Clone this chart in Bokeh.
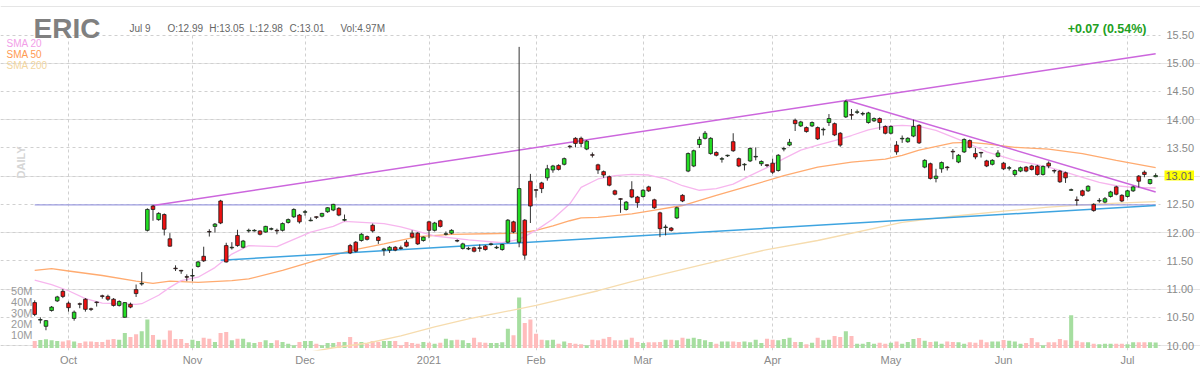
import numpy as np
import pandas as pd
from bokeh.plotting import figure
from bokeh.models import (ColumnDataSource, Range1d, FixedTicker, Label, LabelSet, Grid,
                          BoxAnnotation)
from bokeh.core.properties import value
from bokeh.embed import file_html
from bokeh.resources import INLINE

FONT = "Liberation Sans"

# ---------------- data ----------------
symbol = "ERIC"
market_holidays = ["2020-11-26", "2020-12-25", "2021-01-01", "2021-01-18",
                   "2021-02-15", "2021-04-02", "2021-05-31", "2021-07-05"]
dates = pd.bdate_range("2020-09-23", "2021-07-09", freq="C", holidays=market_holidays)

opens = [10.76,10.45,10.34,10.62,10.79,10.96,10.75,10.48,10.74,10.82,
         10.65,10.77,10.88,10.87,10.82,10.71,10.50,10.73,10.99,11.09,
         12.04,12.47,12.23,12.32,11.89,11.37,11.33,11.22,11.23,11.40,
         11.58,12.02,12.11,12.56,11.77,11.73,11.95,11.74,12.03,12.03,
         12.03,12.01,12.06,12.04,12.04,12.18,12.28,12.31,12.36,12.21,
         12.28,12.29,12.37,12.40,12.43,12.22,11.77,11.83,11.86,11.93,
         12.13,11.92,11.69,11.69,11.74,11.73,11.83,11.99,11.99,11.86,
         12.19,12.04,12.21,11.97,11.99,11.86,11.72,11.71,11.73,11.73,
         11.76,11.79,11.73,11.70,11.83,12.19,11.83,12.22,12.91,12.76,
         12.88,12.97,13.11,13.19,13.21,13.53,13.67,13.67,13.48,13.38,
         13.20,13.08,12.99,12.74,12.60,12.41,12.76,12.63,12.64,12.81,
         12.58,12.35,12.09,12.08,12.26,12.66,13.09,13.18,13.56,13.67,
         13.40,13.42,13.30,13.36,13.61,13.31,13.20,13.27,13.34,13.22,
         13.20,13.23,13.10,13.48,13.55,13.99,13.89,13.86,13.89,13.86,
         13.82,13.95,13.93,13.76,14.05,14.09,14.13,14.10,13.95,13.98,
         14.02,13.88,13.76,13.55,13.66,13.61,13.71,13.90,13.16,13.22,
         12.96,13.13,13.16,13.44,13.25,13.43,13.63,13.40,13.42,13.27,
         13.21,13.35,13.23,13.14,13.03,13.09,13.16,13.18,13.18,13.03,
         13.23,13.10,13.09,13.06,12.75,12.58,12.74,12.74,12.50,12.56,
         12.54,12.64,12.81,12.66,12.64,12.74,13.00,13.07,12.87,12.99]

highs = [10.80,10.50,10.45,10.70,10.88,11.00,10.78,10.62,10.76,10.84,
         10.67,10.78,10.90,10.90,10.84,10.80,10.77,10.76,11.08,11.30,
         12.43,12.49,12.36,12.34,11.99,11.42,11.34,11.26,11.36,11.50,
         11.75,12.06,12.17,12.58,11.82,11.83,12.05,11.87,12.07,12.06,
         12.04,12.12,12.09,12.07,12.18,12.25,12.43,12.33,12.40,12.27,
         12.29,12.35,12.45,12.51,12.45,12.32,11.80,11.85,11.99,11.95,
         12.16,11.94,11.73,11.76,11.76,11.77,11.87,12.04,12.01,11.93,
         12.21,12.19,12.23,12.02,12.06,11.88,11.82,11.75,11.75,11.79,
         11.78,11.82,11.77,11.80,12.24,12.21,15.29,12.24,13.04,12.77,
         12.90,13.20,13.20,13.21,13.33,13.55,13.69,13.70,13.64,13.42,
         13.22,13.10,13.01,12.76,12.61,12.56,12.91,12.65,12.77,12.83,
         12.60,12.37,12.14,12.10,12.46,12.68,13.42,13.47,13.70,13.80,
         13.69,13.44,13.34,13.38,13.76,13.33,13.23,13.51,13.51,13.28,
         13.21,13.31,13.39,13.52,13.66,14.02,13.98,13.88,13.97,13.88,
         13.86,14.10,13.95,13.78,14.35,14.19,14.18,14.14,14.14,14.04,
         14.04,13.90,13.90,13.62,13.72,13.69,14.00,13.92,13.30,13.24,
         13.13,13.26,13.18,13.48,13.39,13.67,13.65,13.50,13.43,13.29,
         13.30,13.46,13.25,13.18,13.12,13.17,13.18,13.20,13.20,13.19,
         13.26,13.12,13.11,13.08,12.78,12.64,12.76,12.84,12.52,12.61,
         12.63,12.74,12.83,12.68,12.76,12.83,13.02,13.10,12.95,13.05]

lows = [10.52,10.39,10.27,10.60,10.77,10.84,10.60,10.44,10.66,10.60,
        10.61,10.69,10.83,10.79,10.69,10.69,10.49,10.66,10.86,11.06,
        12.02,12.21,12.21,11.95,11.75,11.32,11.27,11.14,11.14,11.38,
        11.48,11.93,12.00,12.15,11.47,11.70,11.75,11.72,12.00,12.02,
        11.95,12.00,12.04,11.97,12.02,12.16,12.26,12.16,12.30,12.20,
        12.24,12.27,12.35,12.38,12.29,12.20,11.62,11.65,11.84,11.86,
        12.00,11.80,11.59,11.64,11.67,11.70,11.74,11.90,11.78,11.84,
        11.90,12.02,12.09,11.95,11.97,11.83,11.70,11.69,11.65,11.66,
        11.68,11.77,11.71,11.68,11.81,11.99,11.74,11.52,12.17,12.62,
        12.70,12.92,13.06,13.10,13.19,13.49,13.51,13.51,13.46,13.33,
        13.04,12.97,12.82,12.66,12.35,12.39,12.61,12.44,12.62,12.72,
        12.42,11.92,11.95,12.02,12.24,12.54,13.07,13.16,13.50,13.65,
        13.38,13.35,13.24,13.34,13.43,13.16,13.10,13.25,13.28,13.18,
        13.16,13.04,13.08,13.44,13.53,13.80,13.87,13.77,13.87,13.64,
        13.72,13.89,13.71,13.52,14.03,14.00,14.10,14.07,13.93,13.96,
        13.82,13.74,13.74,13.38,13.59,13.59,13.69,13.57,13.14,12.94,
        12.89,13.06,13.10,13.30,13.23,13.41,13.49,13.30,13.33,13.16,
        13.19,13.33,13.11,13.10,12.99,13.07,13.07,13.10,13.01,13.01,
        13.14,13.05,12.88,12.88,12.74,12.48,12.64,12.72,12.37,12.53,
        12.52,12.62,12.66,12.54,12.62,12.72,12.80,12.98,12.85,12.98]

closes = [10.55,10.46,10.44,10.68,10.86,10.87,10.67,10.59,10.73,10.64,
          10.64,10.76,10.87,10.82,10.71,10.78,10.76,10.68,10.92,11.10,
          12.41,12.41,12.34,12.06,11.76,11.36,11.32,11.21,11.24,11.48,
          11.50,12.01,12.15,12.17,11.48,11.74,11.77,11.85,12.04,12.04,
          11.97,12.11,12.07,12.03,12.16,12.23,12.41,12.19,12.37,12.22,
          12.27,12.34,12.44,12.50,12.31,12.23,11.64,11.67,11.97,11.88,
          12.03,11.86,11.71,11.74,11.69,11.72,11.76,11.92,11.80,11.92,
          12.04,12.17,12.11,11.98,12.04,11.85,11.80,11.72,11.67,11.72,
          11.70,11.80,11.74,11.79,12.22,12.01,12.78,11.60,12.47,12.75,
          12.78,13.13,13.18,13.12,13.31,13.52,13.58,13.58,13.62,13.37,
          13.11,13.02,12.84,12.68,12.59,12.54,12.63,12.53,12.75,12.74,
          12.44,12.07,12.10,12.04,12.44,12.56,13.40,13.45,13.65,13.76,
          13.67,13.37,13.31,13.37,13.45,13.18,13.21,13.49,13.35,13.26,
          13.19,13.07,13.37,13.49,13.60,13.93,13.96,13.79,13.95,13.66,
          13.83,14.02,13.73,13.55,14.32,14.08,14.14,14.11,14.12,14.02,
          13.95,13.76,13.88,13.43,13.67,13.67,13.88,13.59,13.28,12.96,
          13.00,13.24,13.15,13.43,13.37,13.65,13.51,13.34,13.41,13.18,
          13.28,13.41,13.13,13.15,13.10,13.15,13.09,13.12,13.03,13.17,
          13.18,13.09,12.90,12.97,12.76,12.57,12.66,12.82,12.39,12.57,
          12.60,12.72,12.68,12.56,12.74,12.81,12.91,13.03,12.94,13.01]

volumes_m = [6.4,7.3,7.9,7.0,6.4,6.0,7.0,6.0,4.5,5.8,
             5.8,5.5,5.5,7.6,8.2,7.6,13.6,10.0,12.4,15.2,
             25.8,11.8,7.6,7.6,16.0,8.2,8.2,4.5,7.6,6.4,
             9.4,8.5,5.5,13.6,14.5,7.0,8.5,8.5,5.2,4.5,
             5.5,7.0,4.5,7.0,5.5,3.9,2.4,5.5,6.4,6.4,
             3.9,2.4,4.5,4.5,5.5,5.5,10.0,5.5,5.5,3.9,
             6.4,5.5,6.4,6.4,6.4,2.4,5.5,4.5,3.9,5.5,
             4.8,3.9,4.8,8.5,7.0,7.6,7.0,4.5,9.4,5.2,
             4.8,4.5,4.5,5.2,17.6,11.5,45.8,22.7,25.8,13.0,
             7.6,7.0,7.6,3.9,5.8,4.5,3.9,3.3,2.4,7.6,
             7.0,8.5,10.0,7.0,7.0,7.6,9.4,5.5,4.5,5.2,
             5.2,5.5,7.6,7.6,7.0,9.4,8.5,9.4,8.2,7.0,
             5.5,3.9,6.0,5.8,5.8,5.5,5.8,5.2,7.6,4.5,
             8.5,7.6,7.0,8.2,9.4,5.5,5.5,3.3,4.8,9.4,
             7.0,7.6,10.9,10.0,15.2,10.9,3.9,3.9,5.5,3.9,
             4.8,3.9,4.8,5.8,3.9,5.5,8.2,9.0,6.7,5.5,
             5.8,3.9,5.8,5.5,5.2,3.9,5.2,4.8,7.6,5.2,
             6.0,5.8,7.3,6.7,5.8,3.9,4.5,9.0,5.2,2.4,
             5.2,5.2,8.2,7.0,29.7,6.7,5.2,5.2,3.9,3.3,
             3.9,3.9,3.9,3.9,3.3,5.2,5.2,5.2,5.2,4.97]

# moving averages (day index, value)
sma20_idx = [0,3,6,9,12,18,19,22,24,26,29,32,35,38,43,49,53,55,62,65,71,77,83,86,89,92,95,97,
             100,103,106,109,112,115,118,121,124,127,130,133,136,139,142,145,148,151,154,157,
             160,163,166,169,172,174,177,180,183,186,189,192,195,199]
sma20_val = [11.16,11.08,10.97,10.83,10.75,10.73,10.74,10.89,11.03,11.15,11.21,11.38,11.62,11.77,
             11.75,12.01,12.11,12.20,12.16,12.10,11.94,11.87,11.82,11.88,12.04,12.24,12.51,12.80,
             12.95,13.01,13.03,13.02,12.95,12.83,12.75,12.78,12.86,13.01,13.15,13.31,13.46,13.55,
             13.63,13.72,13.82,13.88,13.90,13.88,13.81,13.69,13.57,13.43,13.34,13.28,13.22,13.16,
             13.07,12.98,12.89,12.83,12.80,12.79]
sma50_idx = [0,3,6,12,18,21,24,29,35,38,44,50,56,62,68,74,80,86,89,92,95,97,100,106,109,
             115,121,127,133,139,145,151,154,157,163,166,169,174,180,186,192,199]
sma50_val = [11.33,11.36,11.32,11.24,11.14,11.10,11.14,11.12,11.15,11.18,11.33,11.51,11.68,11.80,
             11.93,11.97,11.98,11.99,12.04,12.12,12.21,12.26,12.27,12.33,12.38,12.48,12.66,12.83,
             13.01,13.16,13.25,13.30,13.37,13.46,13.59,13.60,13.57,13.51,13.48,13.40,13.28,13.15]
sma200_idx = [47,53,59,65,71,77,89,100,106,118,130,139,154,163,172,180,189,199]
sma200_val = [9.85,9.96,10.04,10.17,10.33,10.47,10.71,10.97,11.13,11.42,11.70,11.86,12.18,
              12.29,12.38,12.45,12.51,12.55]

# hand-drawn trend lines (day index, price)
trend_up_idx, trend_up_val = [21, 199], [12.48, 15.17]
trend_down_idx, trend_down_val = [144, 199], [14.35, 12.72]
flat_idx, flat_val = [0, 199], [12.49, 12.49]
support_idx, support_val = [33, 199], [11.51, 12.48]

price_ticks = [10.00, 10.50, 11.00, 11.50, 12.00, 12.50, 13.00, 13.50, 14.00, 14.50, 15.00, 15.50]
vol_tick_values = [10, 20, 30, 40, 50]
vol_tick_labels = ["10M", "20M", "30M", "40M", "50M"]
sma_names = ["SMA 20", "SMA 50", "SMA 200"]

# ---------------- derived ----------------
n = len(closes)
xi = np.arange(n)
o = np.array(opens); c = np.array(closes)
h = np.maximum(np.array(highs), np.maximum(o, c))
l = np.minimum(np.array(lows), np.minimum(o, c))
up = c >= o

month_ticks = [i for i in range(1, n) if dates[i].month != dates[i - 1].month]
month_labels = [str(dates[i].year) if dates[i].month == 1 else dates[i].strftime("%b")
                for i in month_ticks]

# ---------------- layout (canvas pixels) ----------------
W, H = 1200, 375
FB = 350                       # frame bottom; frame spans x 0..1200, y 0..350
PLOT_RIGHT = 1160              # right end of the drawn chart area
X0_PX, PX_DAY = 34.2, 5.633
Y10_PX, PX_USD = 345.0, 56.45
VOL0_PX, PX_M = 347.5, 1.1

x_lo, x_hi = -X0_PX / PX_DAY, (W - X0_PX) / PX_DAY
y_lo, y_hi = 10 - (FB - Y10_PX) / PX_USD, 10 + Y10_PX / PX_USD
x_plot_right = (PLOT_RIGHT - X0_PX) / PX_DAY

p = figure(width=W, height=H, output_backend="svg", toolbar_location=None, title=None, tools="",
           x_range=Range1d(x_lo, x_hi), y_range=Range1d(y_lo, y_hi),
           y_axis_location=None,
           min_border_left=0, min_border_right=0, min_border_top=0, min_border_bottom=H - FB)
p.extra_y_ranges = {"vol": Range1d(-(FB - VOL0_PX) / PX_M, VOL0_PX / PX_M)}
p.outline_line_color = None
p.background_fill_color = "white"
p.border_fill_color = "white"

# x axis (months)
xax = p.xaxis[0]
xax.ticker = FixedTicker(ticks=month_ticks)
xax.major_label_overrides = {int(t): lab for t, lab in zip(month_ticks, month_labels)}
xax.axis_line_color = None
xax.major_tick_line_color = None
xax.minor_tick_line_color = None
xax.major_tick_out = 0
xax.major_tick_in = 0
xax.major_label_text_font = FONT
xax.major_label_text_font_size = "11px"
xax.major_label_text_color = "#8a8a8a"
xax.major_label_standoff = 3

# grids
xgrid = p.xgrid[0]
xgrid.ticker = FixedTicker(ticks=month_ticks)
ygrid = Grid(dimension=1, ticker=FixedTicker(ticks=price_ticks))
p.add_layout(ygrid)
for g in (xgrid, ygrid):
    g.grid_line_color = "#d0d0d0"
    g.grid_line_dash = "3 3"
    g.grid_line_width = 1
try:
    xgrid.cross_bounds = (y_lo, price_ticks[-1])
    ygrid.cross_bounds = (x_lo, x_plot_right)
except Exception:
    p.add_layout(BoxAnnotation(bottom=price_ticks[-1] + 0.01, fill_color="white", fill_alpha=1,
                               line_color=None, level="underlay"))
    p.add_layout(BoxAnnotation(left=x_plot_right, fill_color="white", fill_alpha=1,
                               line_color=None, level="underlay"))

# price scale labels on the right (from the tick list)
ylab_vals = [t for t in price_ticks if abs(t - c[-1]) > 0.1]
ylab = ColumnDataSource(dict(y=ylab_vals, t=[f"{t:.2f}" for t in ylab_vals]))
p.add_layout(LabelSet(x=PLOT_RIGHT + 6, y="y", text="t", x_units="screen", source=ylab,
                      text_align="left", text_baseline="middle",
                      text_font=value(FONT), text_font_size="11px", text_color="#8a8a8a"))

# volume
vsrc = ColumnDataSource(dict(x=xi, v=volumes_m,
                             col=np.where(up, "#a6dea0", "#ffbcbc")))
p.vbar(x="x", top="v", bottom=0, width=0.72, fill_color="col", line_color=None,
       y_range_name="vol", source=vsrc)

vlab = ColumnDataSource(dict(y=vol_tick_values, t=vol_tick_labels))
p.add_layout(LabelSet(x=32, y="y", text="t", x_units="screen", y_range_name="vol", source=vlab,
                      text_align="right", text_baseline="middle", y_offset=2,
                      text_font=value(FONT), text_font_size="11px", text_color="#9a9a9a"))

# moving averages
p.line(sma200_idx, sma200_val, line_color="#f6dcae", line_width=1.3)
p.line(sma50_idx, sma50_val, line_color="#ffab70", line_width=1.3)
p.line(sma20_idx, sma20_val, line_color="#f7b6ee", line_width=1.3)

# trend lines
p.line(flat_idx, flat_val, line_color="#9d9de0", line_width=1.2)
p.line(support_idx, support_val, line_color="#3ea4e0", line_width=1.5)
p.line(trend_up_idx, trend_up_val, line_color="#cc66dd", line_width=1.5)
p.line(trend_down_idx, trend_down_val, line_color="#cc66dd", line_width=1.5)

# candles
csrc = ColumnDataSource(dict(x=xi, h=h, l=l, top=np.maximum(o, c), bot=np.minimum(o, c),
                             col=np.where(up, "#22dd22", "#ee1111")))
p.segment(x0="x", y0="l", x1="x", y1="h", line_color="#333333", line_width=1, source=csrc)
p.vbar(x="x", top="top", bottom="bot", width=0.64, fill_color="col", line_color="#1a1a1a",
       line_width=0.8, source=csrc)

# ---------------- texts ----------------
def canvas_label(xc, yc, text, **kw):
    kw.setdefault("text_font", FONT)
    return Label(x=xc, y=FB - yc, x_units="screen", y_units="screen", text=text, **kw)

p.add_layout(canvas_label(33, 27.5, symbol, text_font_size="28px", text_font_style="bold",
                          text_color="#808080", text_baseline="alphabetic"))
last = dates[-1]
info = [(129, f"{last:%b} {last.day}"),
        (167, f"O:{opens[-1]:.2f}"), (208.7, f"H:{highs[-1]:.2f}"),
        (249, f"L:{lows[-1]:.2f}"), (289, f"C:{closes[-1]:.2f}"),
        (340, f"Vol:{volumes_m[-1]:.2f}M")]
for xc, t in info:
    p.add_layout(canvas_label(xc, 27.5, t, text_font_size="10px", text_color="#666666",
                              text_baseline="alphabetic"))
chg = closes[-1] - closes[-2]
pct = chg / closes[-2] * 100
p.add_layout(canvas_label(1146, 28, f"{chg:+.2f} ({pct:.2f}%)", text_font_size="12.5px",
                          text_font_style="bold", text_color="#22a022", text_align="right",
                          text_baseline="alphabetic"))

for (yc, name, col) in zip([42.7, 54, 65], sma_names, ["#f29ee8", "#ff9a52", "#f3d6a0"]):
    p.add_layout(canvas_label(6, yc, name, text_font_size="10px", text_color=col,
                              text_baseline="middle"))

p.add_layout(canvas_label(20, 162, "DAILY", angle=np.pi / 2, text_font_size="11px",
                          text_font_style="bold", text_color="#d6d6d6", text_align="center",
                          text_baseline="middle"))

p.add_layout(Label(x=PLOT_RIGHT + 4, x_units="screen", y=float(c[-1]), y_units="data",
                   text=f"{c[-1]:.2f}", text_font=FONT, text_font_size="11px",
                   text_color="#666666", text_baseline="middle",
                   background_fill_color="#ffff00", padding=1))

open("out.html", "w").write(file_html(p, INLINE))
